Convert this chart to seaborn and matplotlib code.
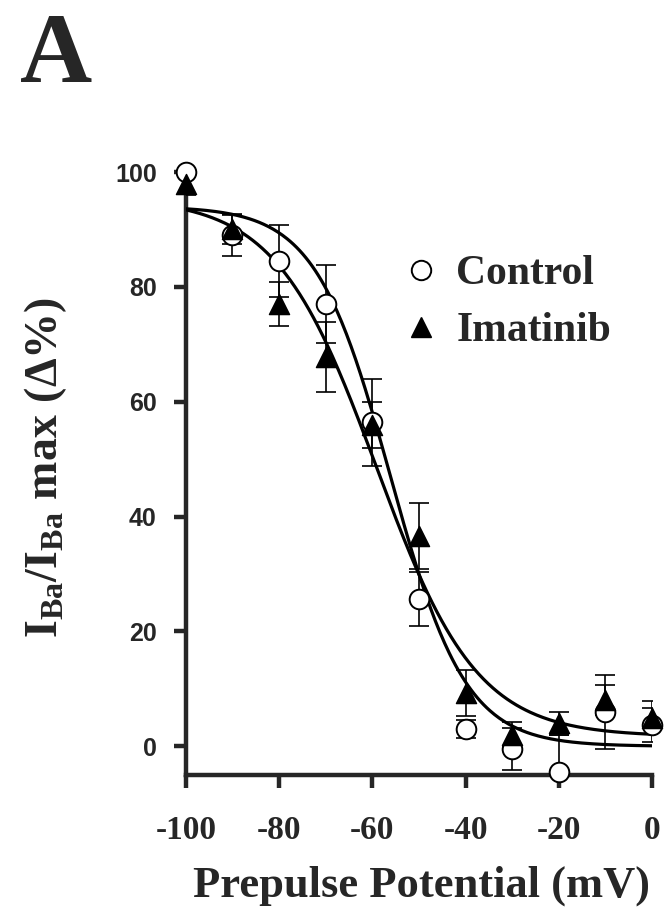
import numpy as np
import pandas as pd
import matplotlib
matplotlib.use("Agg")
import matplotlib.pyplot as plt
from matplotlib.lines import Line2D
import seaborn as sns

# ---- data ----
voltage = [-100, -90, -80, -70, -60, -50, -40, -30, -20, -10, 0]
control = [100, 89, 84.5, 77, 56.4, 25.6, 3, -0.5, -4.4, 6, 3.7]
control_err = [0, 3.7, 6.3, 6.8, 7.6, 4.7, 1.5, 3.6, 6.4, 6.4, 3]
imatinib = [98, 90, 77, 67.8, 56, 36.6, 9.2, 2, 4, 8, 5]
imatinib_err = [2, 2.6, 3.9, 6.1, 4, 5.8, 4, 2.2, 2, 2.6, 2.8]

# Boltzmann fit parameters (top, bottom, V1/2, slope k)
control_fit = dict(top=94.0, bottom=0.0, vhalf=-56.1, k=8.05)
imatinib_fit = dict(top=95.5, bottom=1.7, vhalf=-59.1, k=10.8)

series_names = ["Control", "Imatinib"]
x_ticks = [-100, -80, -60, -40, -20, 0]
y_ticks = [0, 20, 40, 60, 80, 100]


def boltzmann(v, top, bottom, vhalf, k):
    return bottom + (top - bottom) / (1.0 + np.exp((v - vhalf) / k))


sns.set_style("ticks")
plt.rcParams["font.family"] = ["Liberation Serif", "DejaVu Serif"]
plt.rcParams["mathtext.fontset"] = "custom"
plt.rcParams["mathtext.rm"] = "Liberation Serif:bold"
plt.rcParams["mathtext.bf"] = "Liberation Serif:bold"
plt.rcParams["mathtext.it"] = "Liberation Serif:bold"

fig = plt.figure(figsize=(6.66, 9.15), dpi=100)
ax = fig.add_axes([0.279, 0.153, 0.700, 0.659])

vgrid = np.linspace(-100, 0, 300)
curves = pd.DataFrame({
    "V": np.concatenate([vgrid, vgrid]),
    "I": np.concatenate([boltzmann(vgrid, **control_fit), boltzmann(vgrid, **imatinib_fit)]),
    "group": [series_names[0]] * len(vgrid) + [series_names[1]] * len(vgrid),
})
sns.lineplot(data=curves, x="V", y="I", units="group", estimator=None,
             color="black", linewidth=2.3, ax=ax, legend=False, zorder=3)

# error bars (clipped at the axes like the reference)
ax.errorbar(voltage, control, yerr=control_err, fmt="none", ecolor="black",
            elinewidth=1.2, capsize=7, capthick=1.2, zorder=4)
ax.errorbar(voltage, imatinib, yerr=imatinib_err, fmt="none", ecolor="black",
            elinewidth=1.2, capsize=7, capthick=1.2, zorder=4)

pts = pd.DataFrame({"V": voltage, "C": control, "Im": imatinib})
sns.scatterplot(data=pts, x="V", y="C", marker="o", s=200, facecolor="white",
                edgecolor="black", linewidth=1.4, ax=ax, zorder=5, clip_on=False)
sns.scatterplot(data=pts, x="V", y="Im", marker="^", s=210, color="black",
                edgecolor="black", linewidth=1.0, ax=ax, zorder=6, clip_on=False)

ax.set_xlim(-100, 0)
ax.set_ylim(-5, 100)
ax.set_xticks(x_ticks)
ax.set_yticks(y_ticks)
ax.set_xticklabels([str(t) for t in x_ticks], fontfamily="Liberation Serif",
                   fontweight="bold", fontsize=24)
ax.set_yticklabels([str(t) for t in y_ticks], fontfamily="Liberation Sans",
                   fontweight="bold", fontsize=18)
for s in ["top", "right"]:
    ax.spines[s].set_visible(False)
for s in ["left", "bottom"]:
    ax.spines[s].set_linewidth(3.2)
ax.tick_params(axis="x", direction="out", length=9, width=3.2, pad=20)
ax.tick_params(axis="y", direction="out", length=9, width=3.2, pad=12)

ax.set_xlabel("Prepulse Potential (mV)", fontfamily="Liberation Serif",
              fontweight="bold", fontsize=32, va="top")
ax.xaxis.set_label_coords(0.505, -0.150)
ax.set_ylabel(r"$\mathrm{I_{Ba}/I_{Ba}\ max\ (\Delta\%)}$", fontsize=33)
ax.yaxis.set_label_coords(-0.25, 0.51)

handles = [
    Line2D([], [], marker="o", linestyle="none", markersize=14,
           markerfacecolor="white", markeredgecolor="black", markeredgewidth=1.4),
    Line2D([], [], marker="^", linestyle="none", markersize=14, color="black"),
]
ax.legend(handles, series_names, loc="upper left", bbox_to_anchor=(0.433, 0.89),
          frameon=False, prop={"family": "Liberation Serif", "weight": "bold", "size": 30},
          handlelength=0.8, handletextpad=0.45, labelspacing=0.45, borderaxespad=0)

fig.text(20 / 666, 1 - 82 / 915, "A", ha="left", va="baseline",
         fontfamily="Liberation Serif", fontweight="bold", fontsize=72)

fig.savefig("out.png", dpi=100)
